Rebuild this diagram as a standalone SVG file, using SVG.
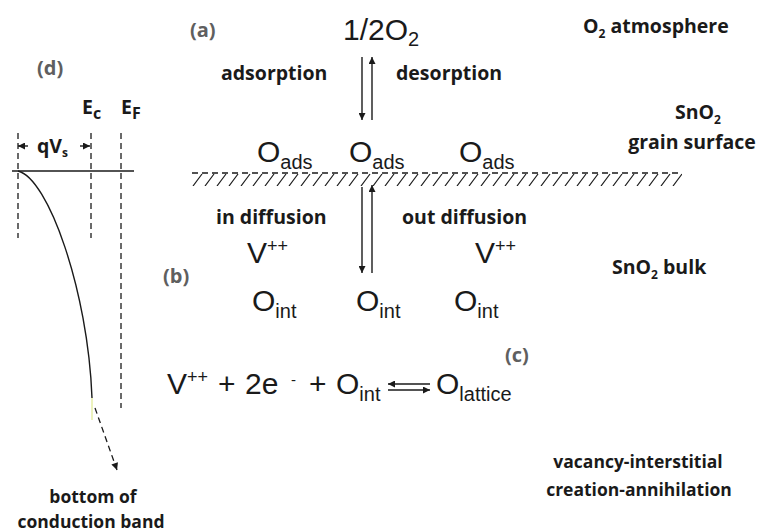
<svg xmlns="http://www.w3.org/2000/svg" width="759" height="532" viewBox="0 0 759 532">
<style>
.lbl{font-family:"Open Sans","Liberation Sans",sans-serif;font-weight:700;font-size:19.5px;fill:#1a1a1a}
.cap{font-family:"Open Sans","Liberation Sans",sans-serif;font-weight:700;font-size:17.5px;fill:#1a1a1a}
.tag{font-family:"Open Sans","Liberation Sans",sans-serif;font-weight:700;font-size:20px;fill:#5f5f5f}
.m{font-family:"Liberation Sans",Arial,sans-serif;font-size:30px;fill:#1a1a1a}
.ln{stroke:#1a1a1a;stroke-width:1.4;fill:none}
.dash{stroke:#1a1a1a;stroke-width:1.3;stroke-dasharray:6 4;fill:none}
</style>
<defs>
<marker id="ah" viewBox="0 0 10 10" refX="10" refY="5" markerWidth="8" markerHeight="7" orient="auto-start-reverse" markerUnits="userSpaceOnUse"><path d="M0,0L10,5L0,10z" fill="#1a1a1a"/></marker>
<pattern id="hatch" patternUnits="userSpaceOnUse" x="192" y="173" width="12" height="13"><path d="M1,13 L10,1" stroke="#1a1a1a" stroke-width="1.2"/></pattern>
</defs>
<rect width="759" height="532" fill="#ffffff"/>

<g id="panel-labels">
<text class="tag" x="190" y="37">(a)</text>
<text class="tag" x="163" y="283">(b)</text>
<text class="tag" x="505" y="362">(c)</text>
<text class="tag" x="37" y="75">(d)</text>
</g>

<g id="o2-gas"><text class="m" x="343" y="40" font-size="29">1/2O<tspan font-size="20" dy="6">2</tspan></text></g>
<g id="o2-atmosphere"><text class="lbl" x="583" y="33">O<tspan font-size="12" dy="5">2</tspan><tspan dy="-5"> atmosphere</tspan></text></g>
<g id="adsorption"><text class="lbl" x="221" y="80">adsorption</text></g>
<g id="desorption"><text class="lbl" x="396" y="80">desorption</text></g>
<g id="grain-surface">
<text class="lbl" x="698" y="119" text-anchor="middle">SnO<tspan font-size="12" dy="5">2</tspan></text>
<text class="lbl" x="692" y="149" text-anchor="middle">grain surface</text>
</g>

<g id="surface">
<line class="dash" x1="192" y1="173" x2="682" y2="173"/>
<rect x="192" y="173" width="490" height="13" fill="url(#hatch)"/>
</g>

<g id="o-ads">
<text class="m" x="257" y="162">O<tspan font-size="20" dy="7">ads</tspan></text>
<text class="m" x="349" y="162">O<tspan font-size="20" dy="7">ads</tspan></text>
<text class="m" x="459" y="162">O<tspan font-size="20" dy="7">ads</tspan></text>
</g>

<g id="in-diffusion"><text class="lbl" x="216" y="224">in diffusion</text></g>
<g id="out-diffusion"><text class="lbl" x="402" y="224">out diffusion</text></g>
<g id="vacancies">
<text class="m" x="247" y="263">V<tspan font-size="18" dy="-11">++</tspan></text>
<text class="m" x="475" y="263">V<tspan font-size="18" dy="-11">++</tspan></text>
</g>
<g id="bulk"><text class="lbl" x="612" y="274">SnO<tspan font-size="12" dy="5">2</tspan><tspan dy="-5"> bulk</tspan></text></g>
<g id="o-int">
<text class="m" x="252" y="311">O<tspan font-size="20" dy="7">int</tspan></text>
<text class="m" x="356" y="311">O<tspan font-size="20" dy="7">int</tspan></text>
<text class="m" x="454" y="311">O<tspan font-size="20" dy="7">int</tspan></text>
</g>

<g id="equation">
<text class="m" x="167" y="394">V<tspan font-size="18" dy="-11">++</tspan><tspan x="218" dy="11">+</tspan><tspan x="245">2e</tspan><tspan x="291" font-size="15" dy="-9">-</tspan><tspan x="309" dy="9">+</tspan><tspan x="336">O</tspan><tspan font-size="20" dy="7">int</tspan></text>
<text class="m" x="436" y="394">O<tspan font-size="20" dy="7">lattice</tspan></text>
</g>
<g id="caption">
<text class="cap" x="638" y="468" text-anchor="middle">vacancy-interstitial</text>
<text class="cap" x="639" y="496" text-anchor="middle">creation-annihilation</text>
</g>

<g id="band-diagram">
<text class="lbl" x="82" y="114" font-size="28">E<tspan font-size="16" dy="5">c</tspan></text>
<text class="lbl" x="121" y="114" font-size="28">E<tspan font-size="16" dy="5">F</tspan></text>
<text class="lbl" x="37" y="153" font-size="20">qV<tspan font-size="12" dy="4">s</tspan></text>
<line class="ln" x1="12" y1="171" x2="134" y2="171"/>
<line class="dash" x1="18" y1="133" x2="18" y2="238"/>
<line class="dash" x1="91" y1="133" x2="91" y2="238"/>
<line class="dash" x1="121" y1="133" x2="121" y2="408"/>
<path class="ln" d="M18,171 C48,178 88,290 92,398" stroke-width="1.3"/>
<line x1="92" y1="398" x2="92" y2="420" stroke="#e2eb9a" stroke-width="1.3"/>
</g>
<g id="bottom-label">
<text class="cap" x="93" y="503" text-anchor="middle">bottom of</text>
<text class="cap" x="91" y="528" text-anchor="middle">conduction band</text>
</g>

<g id="connectors">
<line class="ln" x1="362" y1="57" x2="362" y2="120" marker-end="url(#ah)"/>
<line class="ln" x1="372" y1="120" x2="372" y2="57" marker-end="url(#ah)"/>
<line class="ln" x1="362" y1="187" x2="362" y2="273" marker-end="url(#ah)"/>
<line class="ln" x1="372" y1="273" x2="372" y2="185" marker-end="url(#ah)"/>
<line class="ln" x1="430" y1="384" x2="388" y2="384" marker-end="url(#ah)"/>
<line class="ln" x1="388" y1="390" x2="430" y2="390" marker-end="url(#ah)"/>
<line class="ln" x1="28" y1="146" x2="18" y2="146" marker-end="url(#ah)"/>
<line class="ln" x1="80" y1="146" x2="90" y2="146" marker-end="url(#ah)"/>
<line class="dash" x1="95" y1="408" x2="117" y2="470" marker-end="url(#ah)"/>
</g>
</svg>
